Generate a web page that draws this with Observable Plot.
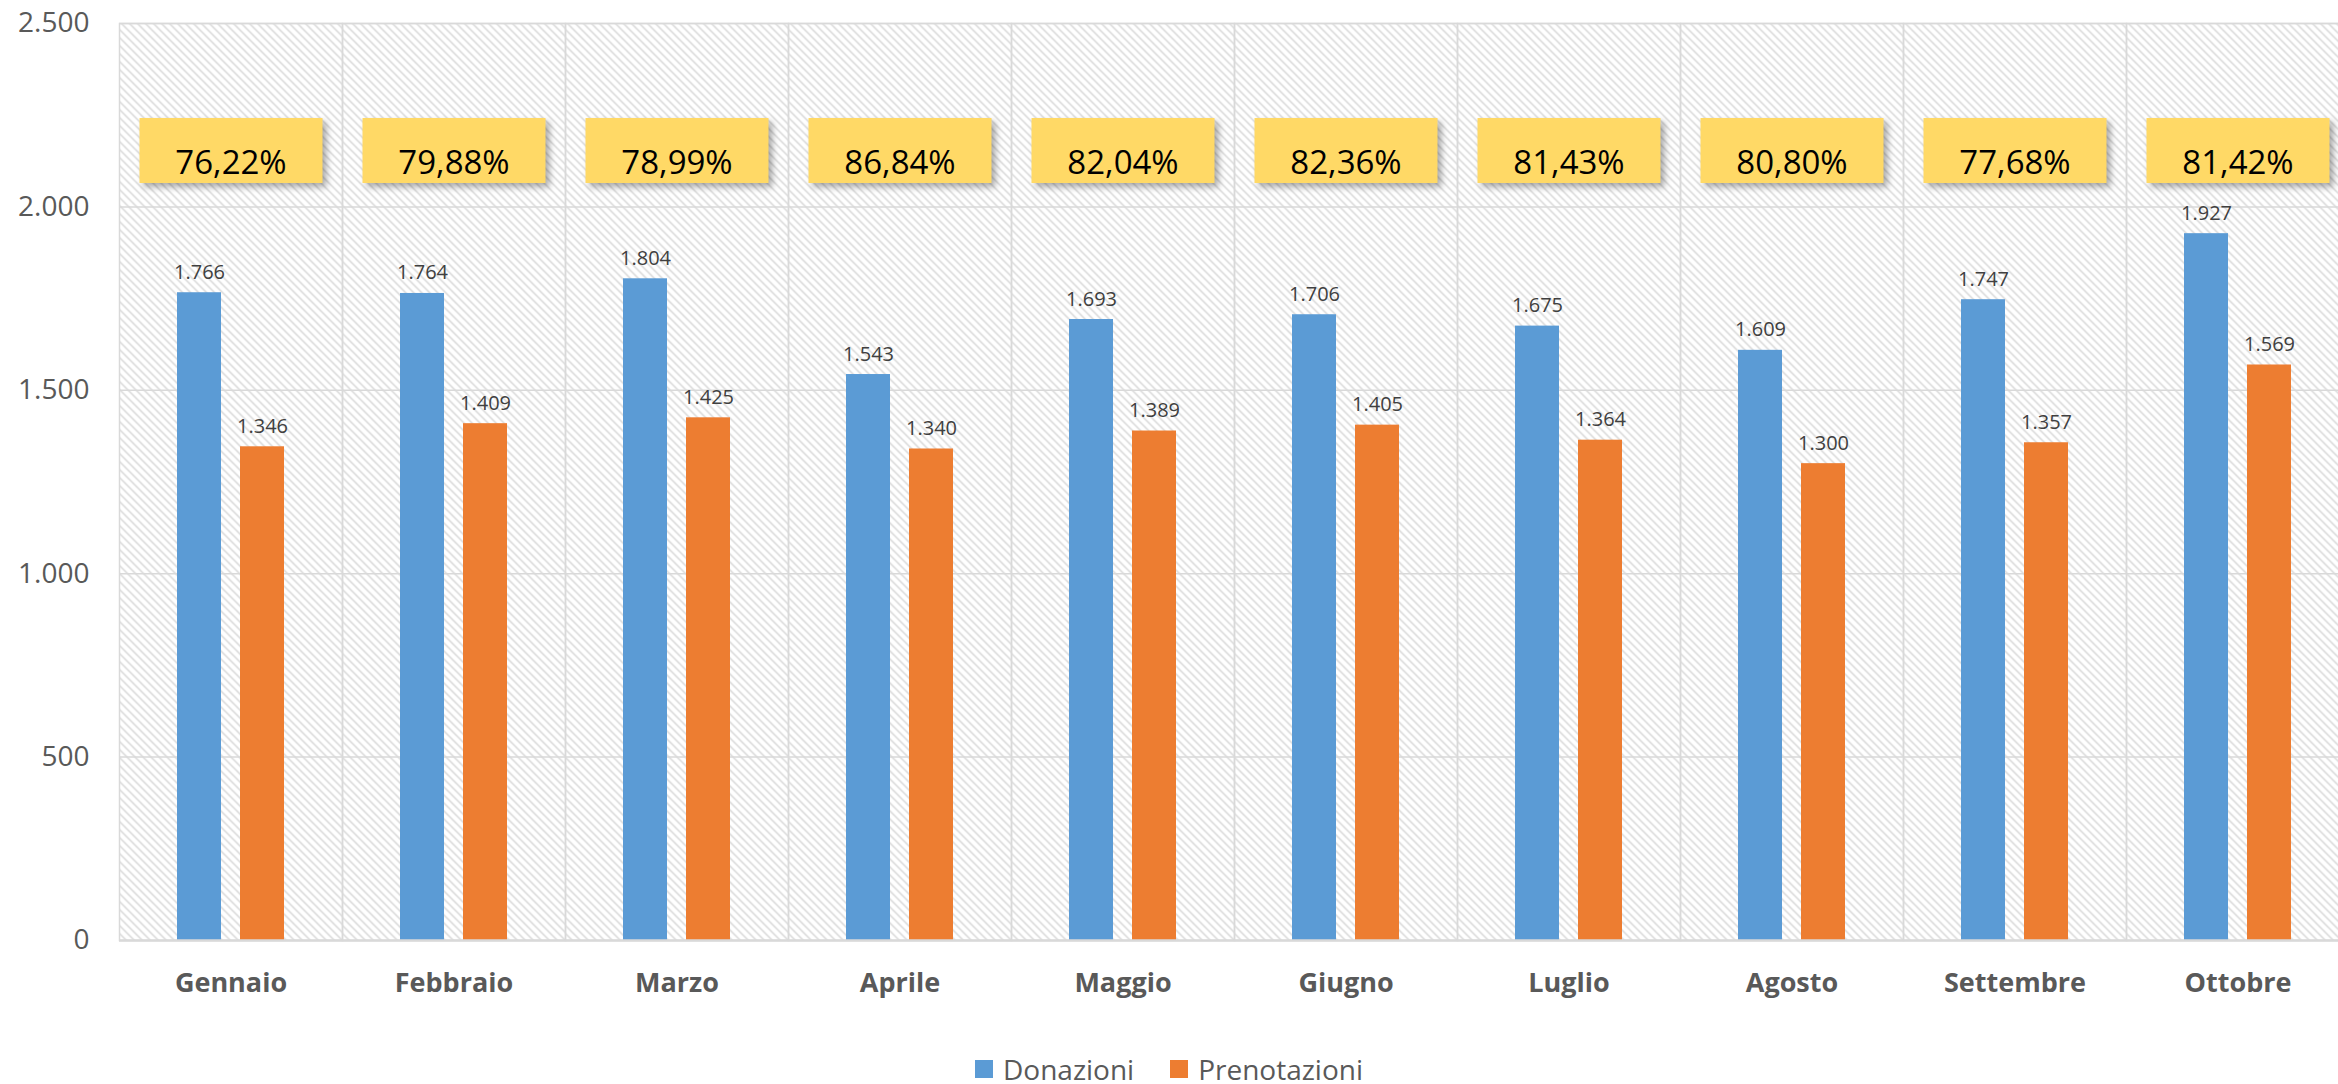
<!DOCTYPE html>
<html>
<head>
<meta charset="utf-8">
<script src="https://cdn.jsdelivr.net/npm/d3@7"></script>
<script src="https://cdn.jsdelivr.net/npm/@observablehq/plot@0.6"></script>
<style>
  html, body { margin: 0; padding: 0; background: #fff; font-family: "Open Sans", sans-serif; overflow: hidden; width: 2338px; }
  #chart { width: 2338px; overflow: hidden; }
  #chart svg { display: block; max-width: none !important; width: 2351px !important; height: 1040px !important; }
  g[aria-label="dot"] { filter: drop-shadow(4px 4px 3px rgba(0,0,0,0.33)); }
  #legend { display: flex; justify-content: center; align-items: center; height: 46px; margin-top: 6px; width: 2338px;
            font-size: 28px; color: #595959; font-family: "Open Sans", sans-serif; }
  #legend .item { display: flex; align-items: center; margin: 0 18px; }
  #legend .sw { width: 18px; height: 18px; margin-right: 10px; }
</style>
</head>
<body>
<svg width="0" height="0" style="position:absolute">
  <defs>
    <pattern id="hatch" patternUnits="userSpaceOnUse" width="8" height="8">
      <path d="M0,0 L8,8 M-2,6 L2,10 M6,-2 L10,2" stroke="#d5d5d5" stroke-width="1.4" fill="none"/>
    </pattern>
  </defs>
</svg>
<div id="chart"></div>
<div id="legend"></div>
<script>
const months = ["Gennaio", "Febbraio", "Marzo", "Aprile", "Maggio", "Giugno", "Luglio", "Agosto", "Settembre", "Ottobre"];
const series = ["Donazioni", "Prenotazioni"];
const donazioni = [1766, 1764, 1804, 1543, 1693, 1706, 1675, 1609, 1747, 1927];
const prenotazioni = [1346, 1409, 1425, 1340, 1389, 1405, 1364, 1300, 1357, 1569];
const percentuali = [76.22, 79.88, 78.99, 86.84, 82.04, 82.36, 81.43, 80.80, 77.68, 81.42];
const yTicks = [0, 500, 1000, 1500, 2000, 2500];
const colors = ["#5B9BD5", "#ED7D31"];

const itLocale = d3.formatLocale({decimal: ",", thousands: ".", grouping: [3], currency: ["", " €"]});
const fmtInt = itLocale.format(",d");
const fmtPct = itLocale.format(".2f");

const long = [];
months.forEach((m, i) => {
  long.push({month: m, series: series[0], value: donazioni[i]});
  long.push({month: m, series: series[1], value: prenotazioni[i]});
});
const pct = months.map((m, i) => ({month: m, pct: percentuali[i]}));

const boxSymbol = {
  draw(context) { context.rect(-91.5, -32.5, 183, 65); }
};

const chart = Plot.plot({
  width: 2351,
  height: 1040,
  marginLeft: 117,
  marginRight: 1,
  marginTop: 23,
  marginBottom: 100,
  style: {fontFamily: "'Open Sans', sans-serif", background: "#fff"},
  fx: {domain: months, padding: 0, label: null},
  x: {domain: series, axis: null, paddingInner: 0.3016, paddingOuter: 0.913},
  y: {domain: [0, 2500], label: null},
  color: {domain: series, range: colors},
  marks: [
    Plot.frame({fill: "url(#hatch)", stroke: "none"}),
    Plot.ruleY(yTicks.slice(1), {stroke: "#d9d9d9", strokeWidth: 1.5}),
    Plot.frame({stroke: "#d9d9d9", strokeWidth: 1.5}),
    Plot.barY(long, {fx: "month", x: "series", y: "value", fill: "series"}),
    Plot.ruleY([0], {stroke: "#d9d9d9", strokeWidth: 2.5}),
    Plot.text(long, {fx: "month", x: "series", y: "value", text: d => fmtInt(d.value),
      lineAnchor: "bottom", dy: -14, fontSize: 20, fill: "#404040"}),
    Plot.dot(pct, {fx: "month", frameAnchor: "top", dy: 127, symbol: boxSymbol, fill: "#FFD966", stroke: "none"}),
    Plot.text(pct, {fx: "month", frameAnchor: "top", dy: 127, text: d => fmtPct(d.pct) + "%",
      fontSize: 33, fill: "#000"}),
    Plot.axisY({ticks: yTicks, tickFormat: fmtInt, tickSize: 0, tickPadding: 30, fontSize: 28, fill: "#595959", label: null}),
    Plot.axisFx({anchor: "bottom", tickSize: 0, tickPadding: 32, fontSize: 27, fontWeight: "bold", fill: "#595959", label: null})
  ]
});
document.getElementById("chart").appendChild(chart);

const legend = document.getElementById("legend");
series.forEach((s, i) => {
  const item = document.createElement("div");
  item.className = "item";
  item.innerHTML = `<span class="sw" style="background:${colors[i]}"></span><span>${s}</span>`;
  legend.appendChild(item);
});
</script>
</body>
</html>
